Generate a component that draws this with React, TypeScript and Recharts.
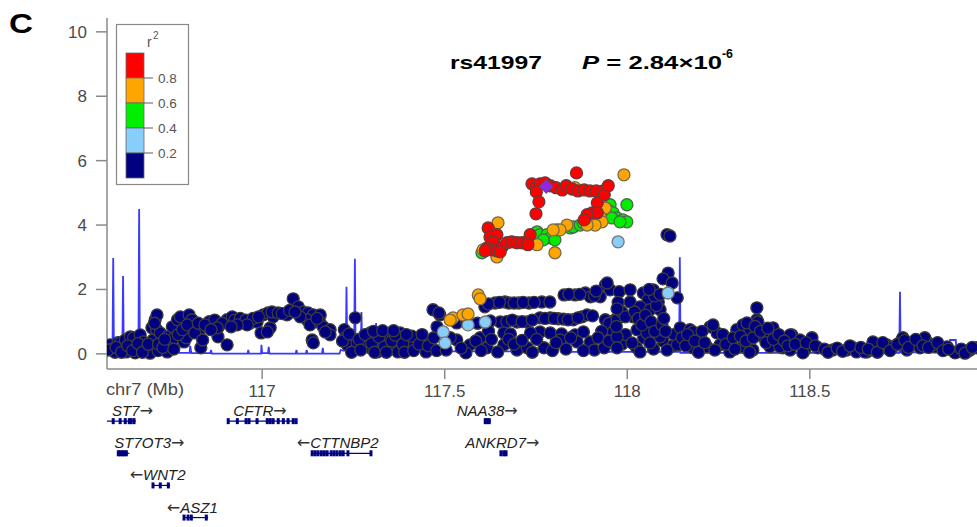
import { ComposedChart, Line, ReferenceLine, Scatter, XAxis, YAxis } from "recharts";

// chr7 window shown, in Mb
const X_DOMAIN: [number, number] = [116.575, 118.958];
const X_TICKS = [117, 117.5, 118, 118.5];
const Y_TICKS = [0, 2, 4, 6, 8, 10];

// [position Mb, -log10 P] per SNP, grouped by r2 bin
const NAVY_SNPS: [number, number][] = [
  [116.584, 0.28], [116.59, 0.15], [116.597, 0.05], [116.605, 0.35], [116.611, 0.34], [116.618, 0.1], [116.625, 0.43],
  [116.628, 0.06], [116.639, 0.53], [116.648, 0.5], [116.652, 0.03], [116.655, 0.2], [116.666, 0.59], [116.666, 0.12],
  [116.674, 0.37], [116.684, 0.22], [116.693, 0.02], [116.698, 0.81], [116.701, 0.43], [116.707, 1.06], [116.712, 1.21],
  [116.711, 0.75], [116.715, 0.1], [116.721, 0.65], [116.725, 0.28], [116.74, 0.53], [116.74, 0.06], [116.748, 0.28],
  [116.754, 0.84], [116.76, 0.5], [116.768, 1.06], [116.776, 1.15], [116.786, 0.37], [116.792, 0.5], [116.8, 1.21],
  [116.808, 1.06], [116.832, 0.19], [116.83, 0.75], [116.849, 0.84], [116.865, 0.96], [116.879, 0.81], [116.879, 0.53],
  [116.904, 0.28], [116.904, 1.06], [116.918, 1.15], [116.931, 0.96], [116.948, 0.96], [116.967, 0.96], [116.986, 0.99],
  [117.003, 1.21], [117.016, 1.27], [117.022, 0.81], [117.03, 1.15],
  [116.578, 0.12], [116.6, 0.2], [116.615, 0.05], [116.632, 0.25], [116.645, 0.1], [116.66, 0.32], [116.672, 0.05],
  [116.688, 0.3], [116.705, 0.95], [116.716, 0.3], [116.728, 0.2], [116.733, 0.45], [116.758, 0.15], [116.77, 0.6],
  [116.782, 0.75], [116.795, 0.9], [116.815, 0.65], [116.825, 0.95], [116.855, 1.0], [116.87, 1.05], [116.89, 0.95],
  [116.925, 1.05], [116.94, 1.1], [116.955, 1.05], [116.975, 1.1], [116.99, 1.15],
  [117.027, 1.3], [117.044, 1.27], [117.068, 1.21], [117.085, 1.71], [117.099, 1.46], [117.112, 1.3], [117.126, 1.27],
  [117.14, 1.21], [117.159, 1.21], [117.123, 1.06], [117.131, 0.9], [117.104, 1.15], [117.159, 0.96], [117.167, 0.84],
  [117.186, 0.75], [117.186, 0.59], [117.173, 0.68], [117.137, 0.43], [117.14, 0.34], [116.997, 0.65], [117.014, 0.68],
  [116.959, 0.9], [116.932, 0.9], [116.915, 0.84], [116.877, 0.81], [116.843, 0.9], [116.86, 0.75], [116.837, 0.43],
  [117.055, 1.25], [117.075, 1.35], [117.09, 1.3], [117.15, 1.1],
  [117.225, 0.75], [117.228, 0.5], [117.233, 0.28], [117.255, 1.12], [117.26, 0.19], [117.277, 0.5], [117.296, 0.65],
  [117.315, 0.59], [117.323, 0.34], [117.296, 0.19], [117.343, 0.5], [117.35, 0.22], [117.378, 0.65], [117.397, 0.37],
  [117.405, 0.22], [117.424, 0.5], [117.441, 0.22], [117.46, 0.37], [117.468, 1.37], [117.487, 1.21], [117.449, 0.06],
  [117.372, 0.06], [117.315, 0.06], [117.26, 0.34], [117.288, 0.28],
  [117.22, 0.4], [117.238, 0.62], [117.245, 0.05], [117.265, 0.45], [117.27, 0.12], [117.282, 0.6], [117.3, 0.32],
  [117.308, 0.05], [117.32, 0.52], [117.335, 0.22], [117.34, 0.05], [117.355, 0.4], [117.365, 0.58], [117.385, 0.3],
  [117.39, 0.05], [117.41, 0.55], [117.415, 0.1], [117.43, 0.3], [117.438, 0.6], [117.455, 0.25], [117.47, 0.5],
  [117.478, 0.1], [117.305, 0.7], [117.33, 0.72], [117.36, 0.72], [117.395, 0.6],
  [117.61, 1.46], [117.638, 1.58], [117.665, 1.61], [117.676, 1.58], [117.703, 1.58], [117.731, 1.58], [117.766, 1.61],
  [117.788, 1.61], [117.827, 1.83], [117.857, 1.83], [117.885, 1.89], [117.899, 1.77], [117.926, 1.77], [117.94, 2.14],
  [117.953, 1.99], [117.978, 1.93], [117.62, 1.55], [117.65, 1.6], [117.69, 1.58], [117.715, 1.6], [117.745, 1.6],
  [117.84, 1.85], [117.87, 1.85], [117.91, 1.8], [117.945, 2.2], [117.915, 1.95],
  [117.652, 0.99], [117.698, 0.99], [117.726, 0.99], [117.761, 1.12], [117.789, 1.12], [117.811, 1.09], [117.852, 1.06],
  [117.876, 1.15], [117.89, 1.21], [117.94, 1.06], [117.967, 1.06], [117.533, 0.96], [117.484, 1.27], [117.479, 0.84],
  [117.56, 1.0], [117.59, 0.95], [117.625, 1.02], [117.67, 1.0], [117.685, 1.05], [117.712, 1.0], [117.74, 1.05],
  [117.775, 1.1], [117.8, 1.1], [117.825, 1.08], [117.838, 1.06], [117.865, 1.12], [117.905, 1.18], [117.95, 0.95],
  [117.761, 0.68], [117.789, 0.65], [117.662, 0.65], [117.597, 0.5], [117.857, 0.59], [117.961, 0.68], [117.62, 0.7],
  [117.68, 0.62], [117.735, 0.65], [117.82, 0.62], [117.88, 0.68], [117.93, 0.7],
  [117.533, 0.43], [117.569, 0.28], [117.616, 0.19], [117.662, 0.28], [117.698, 0.12], [117.726, 0.19], [117.772, 0.19],
  [117.816, 0.43], [117.863, 0.37], [117.899, 0.37], [117.91, 0.12], [117.937, 0.19], [117.504, 0.12], [117.558, 0.03],
  [117.515, 0.5], [117.545, 0.18], [117.585, 0.4], [117.6, 0.1], [117.628, 0.45], [117.645, 0.06], [117.675, 0.45],
  [117.69, 0.3], [117.712, 0.42], [117.74, 0.05], [117.752, 0.45], [117.795, 0.1], [117.805, 0.35], [117.832, 0.15],
  [117.845, 0.5], [117.88, 0.1], [117.92, 0.5], [117.95, 0.4], [117.985, 0.3], [117.995, 0.6], [118.025, 0.2],
  [118.045, 0.5], [118.072, 0.15], [118.098, 0.4], [118.125, 0.25], [118.128, 0.6],
  [118.109, 3.7], [118.117, 3.66], [118.112, 2.51], [118.098, 2.33], [118.123, 2.2], [118.137, 1.74], [118.008, 1.99],
  [118.044, 1.89], [118.071, 1.99], [118.057, 1.68], [118.085, 1.61], [118.008, 1.61], [118.035, 1.46], [118.062, 1.37],
  [118.09, 1.37], [118.016, 1.15], [117.972, 1.06], [118.054, 0.99], [118.082, 0.84], [118.027, 0.75], [117.972, 0.53],
  [118.054, 0.65], [118.09, 0.53], [118.013, 0.34], [118.062, 0.34], [117.972, 0.19], [118.035, 0.06], [118.109, 0.12],
  [118.137, 0.28], [118.145, 0.81], [118.172, 0.75], [118.199, 0.53], [118.227, 0.84], [118.246, 0.65], [118.18, 0.19],
  [118.218, 0.22], [118.254, 0.28], [118.281, 0.06], [118.3, 0.75], [118.317, 0.9], [118.336, 0.75], [118.355, 1.43],
  [118.355, 1.06], [118.372, 0.53], [118.399, 0.75], [118.41, 0.53], [118.426, 0.19], [118.391, 0.22], [118.317, 0.22],
  [118.344, 0.12],
  [117.985, 1.3], [117.995, 1.15], [118.02, 1.3], [118.03, 1.1], [118.04, 0.9], [118.05, 1.2], [118.065, 1.0],
  [118.075, 0.7], [118.08, 1.5], [118.095, 0.9], [118.1, 1.1], [118.105, 0.7], [118.075, 1.8], [118.06, 2.0],
  [118.09, 1.85], [117.975, 1.6], [117.972, 1.4], [117.97, 0.85],
  [118.18, 0.68], [118.235, 0.9], [118.328, 0.96], [118.358, 0.99], [118.399, 0.81], [118.451, 0.59], [118.506, 0.5],
  [118.522, 0.19], [118.563, 0.12], [118.601, 0.12], [118.637, 0.12], [118.673, 0.37], [118.711, 0.19], [118.752, 0.43],
  [118.783, 0.34], [118.821, 0.37], [118.843, 0.22], [118.876, 0.22], [118.903, 0.06], [118.939, 0.12], [118.958, 0.19],
  [118.473, 0.43], [118.486, 0.12], [118.418, 0.22], [118.446, 0.12], [118.766, 0.12], [118.802, 0.19], [118.7, 0.19],
  [118.618, 0.19], [118.656, 0.06], [118.446, 0.59], [118.481, 0.03], [118.628, 0.06], [118.651, 0.06], [118.711, 0.28],
  [118.728, 0.22], [118.755, 0.5], [118.815, 0.5], [118.838, 0.28], [118.898, 0.03], [118.93, 0.06],
  [118.15, 0.5], [118.16, 0.25], [118.165, 0.6], [118.185, 0.4], [118.195, 0.05], [118.205, 0.7], [118.212, 0.35],
  [118.24, 0.12], [118.262, 0.6], [118.27, 0.3], [118.29, 0.5], [118.295, 0.15], [118.31, 0.55], [118.325, 0.4],
  [118.335, 0.05], [118.345, 0.5], [118.35, 0.85], [118.365, 0.7], [118.38, 0.35], [118.385, 0.8], [118.4, 0.45],
  [118.415, 0.6], [118.43, 0.4], [118.44, 0.25],
  [118.46, 0.3], [118.49, 0.35], [118.515, 0.25], [118.54, 0.15], [118.55, 0.05], [118.575, 0.18], [118.59, 0.08],
  [118.61, 0.25], [118.64, 0.2], [118.66, 0.15], [118.685, 0.05], [118.7, 0.35], [118.72, 0.1], [118.74, 0.3],
  [118.76, 0.42], [118.77, 0.2], [118.79, 0.45], [118.81, 0.25], [118.825, 0.2], [118.85, 0.35], [118.865, 0.1],
  [118.88, 0.15], [118.915, 0.15], [118.925, 0.02], [118.945, 0.2],
];

const LIGHTBLUE_SNPS: [number, number][] = [
  [117.496, 0.68], [117.501, 0.34], [117.564, 0.9], [117.611, 0.99], [117.975, 3.48], [118.112, 1.89],
];

const GREEN_SNPS: [number, number][] = [
  [117.999, 4.63], [117.953, 4.63], [117.947, 4.47], [117.961, 4.38], [117.972, 4.22], [117.958, 4.22], [117.988, 4.16],
  [117.999, 4.1], [117.98, 4.1], [117.753, 3.79], [117.761, 3.7], [117.78, 3.7], [117.789, 3.6], [117.77, 3.54],
  [117.802, 3.54], [117.808, 3.85], [117.844, 3.91], [117.852, 3.94], [117.871, 4.0], [117.879, 4.07], [117.602, 3.14],
];

const ORANGE_SNPS: [number, number][] = [
  [117.991, 5.56], [117.857, 5.16], [117.94, 4.53], [117.926, 4.25], [117.931, 4.1], [117.912, 4.0], [117.89, 4.0],
  [117.835, 4.0], [117.816, 3.85], [117.797, 3.85], [117.802, 3.14], [117.646, 4.07], [117.605, 3.23], [117.643, 3.01],
  [117.753, 3.39], [117.523, 1.12], [117.55, 1.21], [117.564, 1.24], [117.592, 1.83], [117.597, 1.71], [117.515, 1.05],
];

const RED_SNPS: [number, number][] = [
  [117.739, 5.28], [117.75, 5.16], [117.761, 5.28], [117.775, 5.31], [117.789, 5.22], [117.805, 5.16], [117.822, 5.09],
  [117.833, 5.22], [117.849, 5.12], [117.865, 5.06], [117.882, 5.09], [117.898, 5.06], [117.915, 5.06], [117.934, 5.06],
  [117.937, 4.94], [117.948, 5.22], [117.751, 5.03], [117.758, 4.72], [117.75, 4.35], [117.861, 5.62], [117.918, 4.69],
  [117.904, 4.38], [117.918, 4.38], [117.89, 4.32], [117.882, 4.16], [117.619, 3.91], [117.624, 3.63], [117.643, 3.7],
  [117.633, 3.48], [117.616, 3.29], [117.63, 3.23], [117.643, 3.2], [117.657, 3.32], [117.671, 3.45], [117.684, 3.48],
  [117.698, 3.45], [117.712, 3.45], [117.726, 3.48], [117.734, 3.7], [117.728, 3.39], [117.652, 3.17], [117.611, 3.2],
];

// rs41997
const LEAD_SNP: [number, number][] = [[117.778, 5.2]];

// [position Mb, recombination rate cM/Mb]
const RECOMB_RATE: [number, number][] = [
  [116.575, 0.5], [116.59, 0.5], [116.592, 29.8], [116.594, 0.5], [116.617, 0.5], [116.619, 24.2], [116.621, 0.5],
  [116.661, 0.5], [116.663, 45], [116.665, 0.5], [116.745, 0.5], [116.748, 1.9], [116.751, 0.3], [116.801, 0.3],
  [116.803, 2.5], [116.806, 0.2], [116.858, 0.2], [116.86, 1.2], [116.862, 0.1], [116.96, 0.1], [116.962, 1.2],
  [116.964, 0.1], [116.997, 0.1], [116.998, 2.8], [117.0, 0.2], [117.016, 0.2], [117.018, 2.2], [117.02, 0.1],
  [117.092, 0.1], [117.094, 1.2], [117.096, 0.1], [117.12, 0.1], [117.122, 1.2], [117.124, 0.1], [117.164, 0.1],
  [117.166, 1.9], [117.168, 0.1], [117.212, 0.1], [117.215, 1.2], [117.222, 1.0], [117.229, 1.0], [117.231, 20.8],
  [117.233, 1.0], [117.252, 1.0], [117.254, 29.5], [117.256, 1.0], [117.27, 1.0], [117.272, 13], [117.274, 1.0],
  [117.31, 1.0], [117.312, 9.6], [117.314, 1.0], [117.444, 1.0], [117.446, 6.8], [117.448, 0.8], [117.81, 0.8],
  [117.815, 3.4], [117.82, 3.4], [117.822, 0.6], [118.142, 0.6], [118.144, 30], [118.146, 0.3], [118.745, 0.3],
  [118.747, 19.3], [118.749, 0.5], [118.882, 0.5], [118.884, 4.3], [118.9, 4.3], [118.902, 0.3], [118.958, 0.3],
];

// [name, strand, track row, start Mb, end Mb, label start Mb]
const GENES: [string, number, number, number, number, number][] = [
  ["ST7", 1, 1, 116.575, 116.654, 116.589],
  ["ST7OT3", 1, 2, 116.603, 116.636, 116.595],
  ["WNT2", -1, 3, 116.699, 116.748, 116.637],
  ["ASZ1", -1, 4, 116.784, 116.852, 116.739],
  ["CFTR", 1, 1, 116.904, 117.096, 116.921],
  ["CTTNBP2", -1, 2, 117.134, 117.301, 117.095],
  ["NAA38", 1, 1, 117.608, 117.627, 117.533],
  ["ANKRD7", 1, 2, 117.652, 117.671, 117.556],
];

// [position Mb, track row]
const EXONS: [number, number][] = [
  [116.592, 1], [116.611, 1], [116.625, 1], [116.636, 1], [116.641, 1], [116.649, 1],
  [116.606, 2], [116.611, 2], [116.617, 2], [116.622, 2], [116.628, 2],
  [116.701, 3], [116.721, 3], [116.743, 3],
  [116.786, 4], [116.797, 4], [116.806, 4], [116.847, 4],
  [116.907, 1], [116.932, 1], [116.956, 1], [116.964, 1], [116.986, 1], [117.014, 1], [117.022, 1], [117.03, 1],
  [117.044, 1], [117.058, 1], [117.071, 1], [117.085, 1], [117.093, 1],
  [117.137, 2], [117.145, 2], [117.153, 2], [117.162, 2], [117.17, 2], [117.178, 2], [117.189, 2], [117.197, 2],
  [117.205, 2], [117.214, 2], [117.222, 2], [117.235, 2], [117.298, 2],
  [117.611, 1], [117.616, 1], [117.622, 1],
  [117.654, 2], [117.662, 2], [117.668, 2],
];

const LEGEND_COLORS = ["#FF0000", "#FFA500", "#00EE00", "#87CEFA", "#000080"];
const LEGEND_LABELS = ["0.8", "0.6", "0.4", "0.2"];

const FONT = "'Liberation Sans', Arial, Helvetica, sans-serif";
const AXIS_GRAY = "#8a8a8a";

const toSnps = (arr: [number, number][]) => arr.map(([pos, logp]) => ({ pos, logp }));

const dotShape = (fill: string, stroke: string) => (props: any) => {
  const { cx, cy } = props;
  if (cx == null || cy == null) return <g />;
  return <circle cx={cx} cy={cy} r={6} fill={fill} stroke={stroke} strokeWidth={1.3} />;
};

const diamondShape = (props: any) => {
  const { cx, cy } = props;
  if (cx == null || cy == null) return <g />;
  const s = 7;
  return (
    <path
      d={`M${cx},${cy - s}L${cx + s},${cy}L${cx},${cy + s}L${cx - s},${cy}Z`}
      fill="#8A2BE2"
      stroke="#555"
      strokeWidth={1}
    />
  );
};

const exonShape = (props: any) => {
  const { cx, cy } = props;
  if (cx == null || cy == null) return <g />;
  return <rect x={cx - 1.5} y={cy - 3} width={3} height={6} fill="#000080" />;
};

const Arrow = ({ ch }: { ch: string }) => (
  <tspan fontFamily="'DejaVu Sans', sans-serif" fontStyle="normal" fontSize={16} fill="#333">
    {ch}
  </tspan>
);

const geneLabelShape = (props: any) => {
  const { cx, cy, payload } = props;
  if (cx == null || cy == null) return <g />;
  return (
    <text x={cx} y={cy - 5} fontSize={15} fontStyle="italic" fill="#222" fontFamily={FONT} textAnchor="start">
      {payload.strand < 0 && <Arrow ch="←" />}
      {payload.name}
      {payload.strand > 0 && <Arrow ch="→" />}
    </text>
  );
};

export default function App() {
  const recomb = RECOMB_RATE.map(([pos, rate]) => ({ pos, rate }));
  const genes = GENES.map(([name, strand, row, start, end, label]) => ({ name, strand, row, start, end, pos: label }));
  const exons = EXONS.map(([pos, row]) => ({ pos, row }));

  return (
    <div
      style={{
        position: "absolute",
        left: 0,
        top: 0,
        width: 977,
        height: 527,
        overflow: "hidden",
        background: "#fff",
        fontFamily: FONT,
      }}
    >
      <div style={{ position: "absolute", left: 0, top: 0 }}>
        <ComposedChart width={977} height={405} margin={{ top: 18, right: 0, bottom: 6, left: 47 }}>
          <XAxis
            type="number"
            dataKey="pos"
            domain={X_DOMAIN}
            ticks={X_TICKS}
            allowDataOverflow
            height={30}
            tickSize={10}
            tickMargin={6}
            axisLine={{ stroke: AXIS_GRAY, strokeWidth: 1.5 }}
            tickLine={{ stroke: AXIS_GRAY, strokeWidth: 1.5 }}
            tick={{ fill: "#4a4a4a", fontSize: 17 }}
            tickFormatter={(v: number) => String(v)}
          />
          <YAxis
            yAxisId="p"
            type="number"
            domain={[-0.47, 10.43]}
            ticks={Y_TICKS}
            allowDataOverflow
            width={60}
            tickSize={11}
            tickMargin={9}
            axisLine={{ stroke: AXIS_GRAY, strokeWidth: 1.5 }}
            tickLine={{ stroke: AXIS_GRAY, strokeWidth: 1.5 }}
            tick={{ fill: "#4a4a4a", fontSize: 17 }}
          />
          <YAxis yAxisId="r" orientation="right" type="number" domain={[-4.7, 104.3]} allowDataOverflow hide />
          <Line
            yAxisId="r"
            data={recomb}
            dataKey="rate"
            type="linear"
            stroke="#3a3aff"
            strokeWidth={1.8}
            dot={false}
            activeDot={false}
            isAnimationActive={false}
          />
          <Scatter yAxisId="p" data={toSnps(NAVY_SNPS)} dataKey="logp" shape={dotShape("#000080", "#3c3c3c")} isAnimationActive={false} />
          <Scatter yAxisId="p" data={toSnps(LIGHTBLUE_SNPS)} dataKey="logp" shape={dotShape("#87CEFA", "#777")} isAnimationActive={false} />
          <Scatter yAxisId="p" data={toSnps(GREEN_SNPS)} dataKey="logp" shape={dotShape("#00EE00", "#4a6a4a")} isAnimationActive={false} />
          <Scatter yAxisId="p" data={toSnps(ORANGE_SNPS)} dataKey="logp" shape={dotShape("#FFA500", "#7a6a4a")} isAnimationActive={false} />
          <Scatter yAxisId="p" data={toSnps(RED_SNPS)} dataKey="logp" shape={dotShape("#FF0000", "#6a3a3a")} isAnimationActive={false} />
          <Scatter yAxisId="p" data={toSnps(LEAD_SNP)} dataKey="logp" shape={diamondShape} isAnimationActive={false} />
        </ComposedChart>
      </div>

      <div style={{ position: "absolute", left: 0, top: 378 }}>
        <ComposedChart width={977} height={149} margin={{ top: 11, right: 0, bottom: 3, left: 107 }}>
          <XAxis type="number" dataKey="pos" domain={X_DOMAIN} allowDataOverflow hide />
          <YAxis type="number" domain={[0, 4.2]} reversed allowDataOverflow hide />
          {genes.map((g) => (
            <ReferenceLine
              key={g.name}
              segment={[
                { x: g.start, y: g.row },
                { x: g.end, y: g.row },
              ]}
              stroke="#000080"
              strokeWidth={1.2}
              ifOverflow="visible"
            />
          ))}
          <Scatter data={exons} dataKey="row" shape={exonShape} isAnimationActive={false} />
          <Scatter data={genes} dataKey="row" shape={geneLabelShape} isAnimationActive={false} />
        </ComposedChart>
      </div>

      <svg
        width={977}
        height={527}
        style={{ position: "absolute", left: 0, top: 0, pointerEvents: "none" }}
        fontFamily={FONT}
      >
        <text x={9} y={33} fontSize={28} fontWeight="bold" fill="#000" textLength={24} lengthAdjust="spacingAndGlyphs">
          C
        </text>

        <text x={450} y={69} fontSize={18} fontWeight="bold" fill="#000" textLength={92} lengthAdjust="spacingAndGlyphs">
          rs41997
        </text>
        <text x={582} y={69} fontSize={18} fontWeight="bold" fill="#000" textLength={140} lengthAdjust="spacingAndGlyphs">
          <tspan fontStyle="italic">P</tspan> = 2.84×10
        </text>
        <text x={722} y={58} fontSize={12} fontWeight="bold" fill="#000" textLength={11} lengthAdjust="spacingAndGlyphs">
          -6
        </text>

        <text x={106} y={395} fontSize={16} fill="#4a4a4a" textLength={78} lengthAdjust="spacingAndGlyphs">
          chr7 (Mb)
        </text>

        <rect x={116.5} y={24.5} width={72} height={160} fill="#fff" stroke="#888" strokeWidth={1.2} />
        <text x={147} y={47} fontSize={14} fill="#555">r</text>
        <text x={153} y={39} fontSize={10} fill="#555">2</text>
        {LEGEND_COLORS.map((c, i) => (
          <rect key={c} x={126} y={53 + i * 25} width={18} height={25} fill={c} stroke="#666" strokeWidth={0.8} />
        ))}
        {LEGEND_LABELS.map((l, i) => (
          <g key={l}>
            <line x1={144} x2={153} y1={78 + i * 25} y2={78 + i * 25} stroke="#777" strokeWidth={1.2} />
            <text x={158} y={83 + i * 25} fontSize={13.5} fill="#555">
              {l}
            </text>
          </g>
        ))}
      </svg>
    </div>
  );
}
